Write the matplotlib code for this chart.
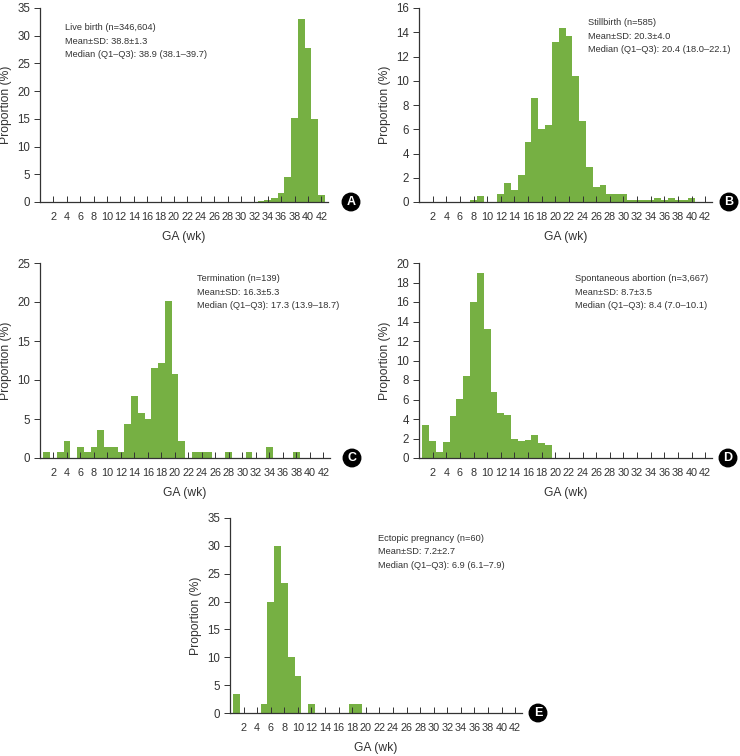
import numpy as np
import matplotlib
matplotlib.use('Agg')
from matplotlib import pyplot as plt

plt.rcParams['font.family'] = ['Liberation Sans', 'DejaVu Sans']

GREEN = '#76b043'
DARK = '#333333'

weeks = np.arange(1, 43)
week_ticks = np.arange(2, 43, 2)

live_birth = [0, 0, 0, 0, 0, 0, 0, 0, 0, 0,
              0, 0, 0, 0, 0, 0, 0, 0, 0, 0,
              0, 0, 0, 0, 0, 0, 0, 0, 0, 0,
              0, 0, 0.25, 0.45, 0.8, 1.7, 4.5, 15.2, 33.1, 27.8,
              14.9, 1.2]
stillbirth = [0, 0, 0, 0, 0, 0, 0, 0.17, 0.51, 0,
              0, 0.68, 1.54, 1.03, 2.22, 4.96, 8.55, 5.98, 6.32, 13.16,
              14.36, 13.68, 10.43, 6.67, 2.91, 1.20, 1.37, 0.68, 0.68, 0.68,
              0.17, 0.17, 0.17, 0.17, 0.34, 0.17, 0.34, 0.17, 0.17, 0.34,
              0, 0]
termination = [0.72, 0, 0.72, 2.16, 0, 1.44, 0.72, 1.44, 3.60, 1.44,
               1.44, 0.72, 4.32, 7.91, 5.76, 5.04, 11.51, 12.23, 20.14, 10.79,
               2.16, 0, 0.72, 0.72, 0.72, 0, 0, 0.72, 0, 0,
               0.72, 0, 0, 1.44, 0, 0, 0, 0.72, 0, 0,
               0, 0]
spont_abortion = [3.4, 1.7, 0.6, 1.6, 4.3, 6.1, 8.4, 16.0, 19.0, 13.2,
                  6.8, 4.6, 4.4, 2.0, 1.7, 1.8, 2.4, 1.5, 1.3, 0,
                  0, 0, 0, 0, 0, 0, 0, 0, 0, 0,
                  0, 0, 0, 0, 0, 0, 0, 0, 0, 0,
                  0, 0]
ectopic = [3.33, 0, 0, 0, 1.67, 20.0, 30.0, 23.33, 10.0, 6.67,
           0, 1.67, 0, 0, 0, 0, 0, 1.67, 1.67, 0,
           0, 0, 0, 0, 0, 0, 0, 0, 0, 0,
           0, 0, 0, 0, 0, 0, 0, 0, 0, 0,
           0, 0]

notes_a = ['Live birth (n=346,604)', 'Mean\u00b1SD: 38.8\u00b11.3', 'Median (Q1\u2013Q3): 38.9 (38.1\u201339.7)']
notes_b = ['Stillbirth (n=585)', 'Mean\u00b1SD: 20.3\u00b14.0', 'Median (Q1\u2013Q3): 20.4 (18.0\u201322.1)']
notes_c = ['Termination (n=139)', 'Mean\u00b1SD: 16.3\u00b15.3', 'Median (Q1\u2013Q3): 17.3 (13.9\u201318.7)']
notes_d = ['Spontaneous abortion (n=3,667)', 'Mean\u00b1SD: 8.7\u00b13.5', 'Median (Q1\u2013Q3): 8.4 (7.0\u201310.1)']
notes_e = ['Ectopic pregnancy (n=60)', 'Mean\u00b1SD: 7.2\u00b12.7', 'Median (Q1\u2013Q3): 6.9 (6.1\u20137.9)']

W, H = 740, 756
fig = plt.figure(figsize=(W / 100, H / 100), dpi=100)

# (values, notes, letter, ymax, ystep, left px, right px, top px, bottom px, badge x px, note x, note ys)
panels = [
    (live_birth, notes_a, 'A', 35, 5, 40, 328, 8, 202, 351, 0.087, [0.897, 0.827, 0.758]),
    (stillbirth, notes_b, 'B', 16, 2, 419, 712, 8, 202, 729, 0.577, [0.923, 0.854, 0.784]),
    (termination, notes_c, 'C', 25, 5, 40, 330, 263, 458, 352, 0.541, [0.923, 0.851, 0.783]),
    (spont_abortion, notes_d, 'D', 20, 2, 419, 712, 263, 458, 728, 0.532, [0.923, 0.851, 0.780]),
    (ectopic, notes_e, 'E', 35, 5, 230, 522, 518, 713, 538, 0.507, [0.897, 0.826, 0.754]),
]

for vals, notes, letter, ymax, ystep, l, r, t, b, bx, nx, nys in panels:
    ax = fig.add_axes([l / W, 1 - b / H, (r - l) / W, (b - t) / H])
    ax.bar(weeks, vals, width=1.0, color=GREEN, linewidth=0)
    ax.set_xlim(0, 43)
    ax.set_ylim(0, ymax)
    ax.set_yticks(np.arange(0, ymax + 1, ystep))
    ax.set_xticks(week_ticks)
    ax.set_xticklabels([str(w) for w in week_ticks])
    for s in ['top', 'right']:
        ax.spines[s].set_visible(False)
    for s in ['left', 'bottom']:
        ax.spines[s].set_color(DARK)
        ax.spines[s].set_linewidth(0.9)
    ax.tick_params(axis='x', direction='in', length=4, width=0.7, colors=DARK,
                   labelsize=7.8, pad=7)
    ax.tick_params(axis='y', direction='out', length=4, width=0.7, colors=DARK,
                   labelsize=8.3, pad=3)
    ax.set_ylabel('Proportion (%)', fontsize=8.7, color=DARK, labelpad=4)
    ax.set_xlabel('GA (wk)', fontsize=8.7, color=DARK, labelpad=7)
    for line, ny in zip(notes, nys):
        ax.text(nx, ny, line, transform=ax.transAxes, fontsize=6.7, color=DARK,
                va='center', ha='left')
    fig.text(bx / W, 1 - b / H, letter, fontsize=9, fontweight='bold',
             color='white', ha='center', va='center',
             bbox=dict(boxstyle='circle,pad=0.22', fc='black', ec='black'))

fig.savefig('out.png', dpi=100)
